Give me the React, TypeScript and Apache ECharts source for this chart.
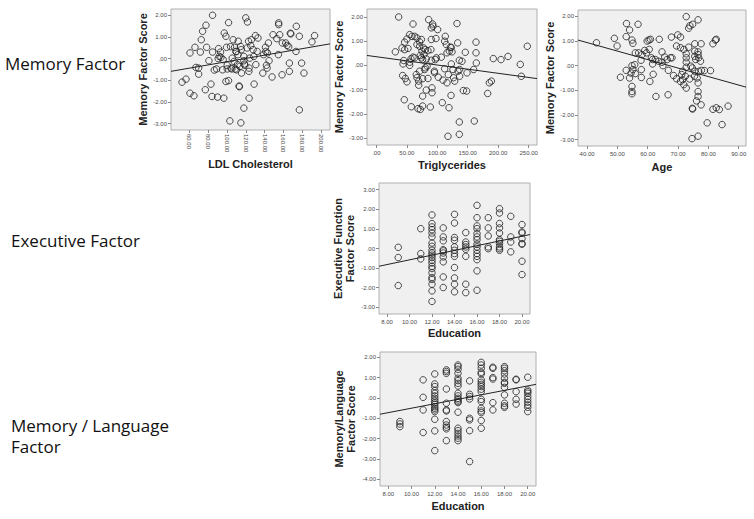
import React, { useEffect, useRef } from "react";
import * as echarts from "echarts";

// ---------- data ----------
const ldlMemory: number[][] = [
  [84.7, 2.0], [77.7, 1.54], [74.1, 1.26], [72.7, 0.87], [66, 0.52], [60.7, 0.26], [71.7, 0.3], [78.4, 0.52],
  [84.7, 0.3], [80.8, -0.1], [67, -0.41], [69.9, -0.44], [69.9, -0.72], [56.5, -0.95], [52.2, -1.09], [60.7, -1.6],
  [64.9, -1.72], [77, -1.44], [83, -1.18], [84.1, -1.75], [90, -1.78], [96.7, -1.83], [86.5, -0.53], [89, -0.48],
  [91.8, 0.1], [97.1, 1.18], [101.7, 1.66], [98.9, 1.03], [99.6, 0.52], [93.6, 0.06], [96, -0.05], [100.3, -0.48],
  [104.2, -0.44], [98.9, -1.06], [101.7, -1.02], [103.1, -2.88], [114.8, -2.97], [118, -2.29], [123.6, -1.83],
  [113, -1.27], [113.2, -1.3], [128.9, -1.18], [103.8, 0.55], [106.6, 0.87], [108.1, 0.52], [112, 0.8], [109.5, 0.33],
  [105.6, 0.02], [107.7, -0.13], [111.2, -0.28], [105.2, -0.48], [108.8, -0.48], [115.5, -0.67], [113.7, -0.36],
  [118, 0.1], [118, -0.1], [118.7, -0.25], [119, -0.31], [123.6, -0.44], [123.3, -0.59], [123, 0.8], [126, 0.87],
  [125.3, 0.6], [127.8, 0.41], [121.5, 0.49], [120, 1.88], [121.8, 1.69], [130.3, 1.06], [133, 0.95], [132.1, 0.33],
  [128.6, 0.1], [124.3, 0.02], [130.7, -0.28], [138.1, -0.67], [142, -0.31], [142.7, -0.44], [144.8, -0.1],
  [138.9, 0.18], [141.3, 0.33], [143, 0.26], [144.1, 0.72], [141, 0.52], [149, 1.1], [153, 0.92], [155, 1.65],
  [155, 1.57], [156.1, 1.1], [158.9, 0.72], [162.5, 0.72], [163.9, 0.61], [165.7, 0.55], [167.4, 1.17], [168, 1.14],
  [154.7, 0.18], [158.6, -0.75], [148, -0.85], [166.4, -0.59], [166.4, -0.21], [173.8, 1.49], [177, 1.03],
  [173.4, 0.33], [179.4, -0.21], [181.9, -0.67], [177, -2.37], [193.2, 1.06], [190.4, 0.77], [91.1, 0.46],
  [93.2, 0.3], [90.7, 0.0], [95.3, -0.52], [100.3, -0.31], [110, -0.52], [110, 0.32], [111.7, 0.18], [115.2, 0.41],
  [114.5, 0.56],
];
const ldlFit: number[][] = [[40.5, -0.59], [209.6, 0.68]];

const trigMemory: number[][] = [
  [36.7, 2.0], [60.2, 1.71], [85.9, 1.89], [92.5, 1.71], [93, 1.62], [90.3, 1.55], [100.6, 1.48], [132.4, 1.73],
  [54.7, 1.27], [58.5, 1.2], [62.9, 1.2], [50.3, 1.09], [66.7, 1.13], [74, 1.07], [71.1, 0.97], [90.3, 1.07],
  [97.9, 1.11], [113.2, 1.2], [112.1, 1.0], [114.9, 0.86], [121.4, 0.75], [123, 0.74], [133.5, 0.93], [163.6, 0.96],
  [46.5, 0.96], [42.1, 0.72], [46.5, 0.65], [52, 0.7], [31.2, 0.56], [66.7, 0.86], [71.1, 0.79], [77.6, 0.72],
  [80.4, 0.65], [84.7, 0.61], [89.6, 0.65], [74.9, 0.59], [78.2, 0.45], [72.2, 0.41], [60.2, 0.34], [62.9, 0.31],
  [56.9, 0.27], [44.9, 0.2], [43.8, 0.06], [54.7, 0.13], [54.7, 0.0], [76, 0.24], [82, 0.27], [90.3, 0.21],
  [96.8, 0.24], [106.7, 0.34], [116, 0.52], [119.8, 0.59], [124.2, 0.56], [146, 0.54], [163.6, 0.52], [136.2, 0.21],
  [140.6, 0.17], [123.1, 0.06], [164.1, 0.1], [192, 0.28], [204.6, 0.24], [216.1, 0.37], [247.8, 0.79], [236.3, 0.04],
  [238, -0.45], [159.7, -0.17], [148.8, -0.31], [136.7, -0.17], [134, -0.24], [136.7, -0.45], [125.8, -0.17],
  [112.1, -0.14], [118.1, -0.38], [126.8, -0.51], [128.6, -0.65], [116, -0.72], [109.4, -0.61], [101.7, -0.49],
  [95.2, -0.24], [95.5, -0.3], [79.3, -0.17], [80.4, -0.1], [71.1, -0.24], [65.6, -0.38], [66.7, -0.51],
  [69.5, -0.65], [69.5, -0.82], [76, -0.55], [84.7, -0.54], [91.4, -0.93], [91.4, -1.13], [82, -1.02], [76, -1.27],
  [43.2, -0.42], [47.6, -0.54], [50.3, -0.68], [45.9, -1.42], [57.4, -1.71], [68.4, -1.79], [72.2, -1.82],
  [76, -1.68], [88.6, -1.72], [108.3, -1.54], [119.3, -1.75], [122.6, -1.24], [142.8, -1.04], [148.2, -1.06],
  [182.7, -1.16], [185.5, -0.72], [188.8, -0.65], [136.2, -2.34], [160.8, -2.3], [117.6, -2.93], [136.2, -2.85],
  [98.5, 0.31], [74, 0.31], [83.3, -0.03],
];
const trigFit: number[][] = [[-15.3, 0.41], [263.7, -0.546]];

const ageMemory: number[][] = [
  [43.1, 0.93], [49, 1.11], [49.9, 0.8], [53, 1.71], [54, 1.45], [56.8, 1.68], [52.9, 1.18], [54.8, 1.04],
  [55.1, 0.91], [59.8, 1.0], [60.4, 1.04], [60.9, 1.07], [63.8, 1.07], [67.8, 1.16], [69.9, 1.25], [70.8, 1.16],
  [72.7, 1.99], [73.5, 1.52], [73.9, 1.62], [74.8, 1.68], [76.6, 1.86], [69.5, 0.8], [70.8, 0.73], [71.9, 0.66],
  [72.7, 0.48], [72.7, 0.32], [72.7, 0.14], [72.7, -0.06], [73.5, 0.75], [75.5, 0.89], [76.6, 0.56], [76.6, 0.45],
  [76.8, 0.32], [77.4, 0.18], [77.6, 0.89], [81.5, 0.89], [82.3, 1.04], [82.6, 1.07], [75.5, 0.59], [75.5, 0.38],
  [75.8, 0.25], [74.7, -0.09], [74.2, -0.02], [75.5, -0.23], [76.8, -0.23], [77.7, -0.19], [78.7, -0.2],
  [80.7, -0.2], [75.4, -0.43], [76.3, -0.5], [76.6, -0.7], [72.4, -0.43], [71.5, -0.57], [70.8, -0.64],
  [71.9, -0.77], [72.7, -0.91], [73.8, -0.54], [71.2, -0.36], [69.5, -0.53], [68.5, -0.4], [66.8, -0.19],
  [71.5, -0.23], [67.5, 0.32], [68, 0.32], [66.4, 0.25], [65.6, 0.35], [64.7, 0.56], [64.7, 0.14], [65, 0.0],
  [63.6, 0.18], [62.5, 0.25], [61.6, 0.25], [61.2, 0.32], [61.6, 0.07], [61.8, -0.35], [60.7, -0.64], [57.8, 0.22],
  [58.1, 0.45], [57, 0.52], [59, 0.62], [59.6, 0.52], [60.5, 0.66], [55.9, 0.52], [55.1, -0.16], [54.5, -0.3],
  [55.9, -0.32], [55.7, 0.04], [54.8, 0.0], [52.9, -0.19], [54, -0.5], [51, -0.47], [57.9, -0.16], [57.9, -0.48],
  [54.8, -0.84], [54.8, -1.05], [54.8, -1.14], [62.7, -1.25], [66.7, -1.18], [76.6, -1.05], [76.6, -1.25],
  [76.1, -1.43], [77.6, -1.59], [74.7, -1.73], [74.8, -1.76], [81.5, -1.77], [82.6, -1.71], [83.6, -1.78],
  [86.5, -1.64], [79.6, -2.32], [84.5, -2.39], [74.6, -2.96], [76.6, -2.86],
];
const ageFit: number[][] = [[37, 1.04], [92.4, -0.87]];

const eduExecutive: number[][] = [
  [9, 0.06], [9, -0.46], [9, -1.89],
  [11, 1.01], [11, -0.26], [11, -0.53],
  [12, 1.71], [12, 1.27], [12, 1.1], [12, 0.96], [12, 0.79], [12, 0.59], [12, 0.28], [12, 0.11], [12, -0.09],
  [12, -0.23], [12, -0.34], [12, -0.46], [12, -0.6], [12, -0.74], [12, -0.91], [12, -1.02], [12, -1.24],
  [12, -1.48], [12, -1.58], [12, -1.82], [12, -2.16], [12, -2.7],
  [13, 1.05], [13, 0.59], [13, 0.39], [13, -0.06], [13, -0.12], [13, -0.23], [13, -0.43], [13, -0.68],
  [13, -1.45], [13, -1.99],
  [14, 1.74], [14, 1.3], [14, 0.56], [14, 0.42], [14, 0.08], [14, -0.09], [14, -0.26], [14, -0.4], [14, -0.97],
  [14, -1.5], [14, -1.82], [14, -2.21],
  [15, 0.81], [15, 0.33], [15, 0.2], [15, 0.08], [15, -0.04], [15, -0.4], [15, -1.82], [15, -2.25],
  [16, 2.2], [16, 1.57], [16, 1.15], [16, 1.01], [16, 0.76], [16, 0.59], [16, 0.45], [16, 0.22], [16, 0.08],
  [16, -0.09], [16, -0.26], [16, -0.4], [16, -0.57], [16, -1.14], [16, -2.13],
  [17, 1.57], [17, 1.05], [17, 0.64], [17, 0.08], [17, -0.01],
  [18, 2.03], [18, 1.81], [18, 1.27], [18, 1.05], [18, 0.79], [18, 0.45], [18, 0.37], [18, 0.25], [18, 0.08],
  [18, -0.01], [18, -0.09],
  [19, 1.64], [19, 0.59], [19, 0.33], [19, -0.17],
  [20, 1.22], [20, 0.84], [20, 0.79], [20, 0.5], [20, 0.25], [20, 0.22], [20, -0.65], [20, -1.33],
];
const eduExecutiveFit: number[][] = [[7.29, -0.905], [20.71, 0.71]];

const eduMemLang: number[][] = [
  [9, -1.16], [9, -1.28], [9, -1.41],
  [11, 0.89], [11, 0.03], [11, -0.59], [11, -1.7],
  [12, 1.18], [12, 0.69], [12, 0.56], [12, 0.36], [12, 0.23], [12, 0.1], [12, -0.02], [12, -0.13], [12, -0.23],
  [12, -0.31], [12, -0.43], [12, -0.51], [12, -0.59], [12, -0.67], [12, -1.05], [12, -1.62], [12, -2.59],
  [13, 1.38], [13, 1.3], [13, 1.21], [13, 0.44], [13, -0.26], [13, -0.59], [13, -0.64], [13, -1.16], [13, -1.33],
  [13, -1.44], [13, -1.52], [13, -2.1],
  [14, 1.62], [14, 1.54], [14, 1.41], [14, 1.21], [14, 0.97], [14, 0.85], [14, 0.72], [14, 0.59], [14, 0.23],
  [14, 0.1], [14, -0.02], [14, -0.1], [14, -0.18], [14, -0.23], [14, -0.7], [14, -1.49], [14, -1.61], [14, -1.74],
  [14, -1.87], [14, -1.98], [14, -2.1],
  [15, 0.84], [15, 0.18], [15, 0.07], [15, -0.05], [15, -1.0], [15, -1.08], [15, -1.61], [15, -3.13],
  [16, 1.75], [16, 1.62], [16, 1.46], [16, 1.26], [16, 1.18], [16, 0.89], [16, 0.77], [16, 0.67], [16, 0.56],
  [16, 0.43], [16, 0.31], [16, -0.07], [16, -0.18], [16, -0.51], [16, -0.64], [16, -0.72], [16, -1.11], [16, -1.49],
  [17, 1.51], [17, 1.46], [17, 1.0], [17, 0.93], [17, -0.23], [17, -0.59],
  [18, 1.54], [18, 1.46], [18, 1.34], [18, 1.18], [18, 0.97], [18, 0.77], [18, 0.72], [18, 0.52], [18, 0.15],
  [18, -0.26], [18, -0.39], [18, -0.46],
  [19, 0.92], [19, 0.89], [19, 0.31], [19, -0.07], [19, -0.3],
  [20, 1.02], [20, 0.39], [20, 0.31], [20, 0.23], [20, 0.07], [20, -0.07], [20, -0.21], [20, -0.34], [20, -0.46],
  [20, -0.67],
];
const eduMemLangFit: number[][] = [[7.29, -0.8], [20.71, 0.67]];

const ldlTicks = [60, 80, 100, 120, 140, 160, 180, 200];
const trigTicks = [0, 50, 100, 150, 200, 250];
const ageTicks = [40, 50, 60, 70, 80, 90];
const eduTicks = [8, 10, 12, 14, 16, 18, 20];
const scoreTicksA = [-3, -2, -1, 0, 1, 2];
const scoreTicksB = [-3, -2, -1, 0, 1, 2, 3];
const scoreTicksC = [-4, -3, -2, -1, 0, 1, 2];

const rowLabels = ["Memory Factor", "Executive Factor", "Memory / Language\nFactor"];

// ---------- helpers ----------
const fmt = (v: number) => {
  const s = Math.abs(v).toFixed(2);
  const t = s.startsWith("0") ? s.slice(1) : s;
  return v < -1e-9 ? "-" + t : t;
};

const SANS = "'Liberation Sans', Arial, sans-serif";

type Panel = {
  grid: { left: number; top: number; width: number; height: number };
  xRange: [number, number];
  yRange: [number, number];
  xTicks: number[];
  yTicks: number[];
  xName: string;
  yName: string;
  xNameGap: number;
  yNameGap: number;
  rotate: number;
  points: number[][];
  fit: number[][];
};

const panels: Panel[] = [
  {
    grid: { left: 171, top: 9, width: 159, height: 121 },
    xRange: [40.5, 209.6], yRange: [-3.3, 2.29], xTicks: ldlTicks, yTicks: scoreTicksA,
    xName: "LDL Cholesterol", yName: "Memory Factor Score", xNameGap: 28, yNameGap: 21, rotate: -90,
    points: ldlMemory, fit: ldlFit,
  },
  {
    grid: { left: 367, top: 9, width: 170, height: 136 },
    xRange: [-15.3, 263.7], yRange: [-3.29, 2.33], xTicks: trigTicks, yTicks: scoreTicksA,
    xName: "Triglycerides", yName: "Memory Factor Score", xNameGap: 14, yNameGap: 22, rotate: 0,
    points: trigMemory, fit: trigFit,
  },
  {
    grid: { left: 578, top: 10, width: 168, height: 136 },
    xRange: [37, 92.4], yRange: [-3.26, 2.26], xTicks: ageTicks, yTicks: scoreTicksA,
    xName: "Age", yName: "Memory Factor Score", xNameGap: 15, yNameGap: 22, rotate: 0,
    points: ageMemory, fit: ageFit,
  },
  {
    grid: { left: 379, top: 183, width: 151, height: 131 },
    xRange: [7.29, 20.71], yRange: [-3.34, 3.34], xTicks: eduTicks, yTicks: scoreTicksB,
    xName: "Education", yName: "Executive Function\nFactor Score", xNameGap: 13, yNameGap: 23, rotate: 0,
    points: eduExecutive, fit: eduExecutiveFit,
  },
  {
    grid: { left: 380, top: 352, width: 156, height: 134 },
    xRange: [7.29, 20.71], yRange: [-4.33, 2.26], xTicks: eduTicks, yTicks: scoreTicksC,
    xName: "Education", yName: "Memory/Language\nFactor Score", xNameGap: 14, yNameGap: 23, rotate: 0,
    points: eduMemLang, fit: eduMemLangFit,
  },
];

export default function App() {
  const ref = useRef<HTMLDivElement>(null);

  useEffect(() => {
    if (!ref.current) return;
    const chart = echarts.init(ref.current, null, { renderer: "svg" });

    const nameStyle = { fontFamily: SANS, fontWeight: "bold" as const, fontSize: 11, color: "#222", lineHeight: 12 };
    const labelStyle = { fontFamily: SANS, fontSize: 6, color: "#4a4a4a" };

    const option: any = {
      animation: false,
      backgroundColor: "#ffffff",
      grid: panels.map((p) => ({
        ...p.grid,
        show: true,
        backgroundColor: "#f0f0f0",
        borderColor: "#b0b0b0",
        borderWidth: 1,
        containLabel: false,
      })),
      xAxis: panels.map((p, i) => ({
        gridIndex: i,
        type: "value",
        position: "bottom",
        min: p.xRange[0],
        max: p.xRange[1],
        name: p.xName,
        nameLocation: "middle",
        nameGap: p.xNameGap,
        nameTextStyle: nameStyle,
        axisLine: { show: false, onZero: false },
        axisTick: { show: true, length: 3, lineStyle: { color: "#888" }, customValues: p.xTicks },
        axisLabel: { ...labelStyle, customValues: p.xTicks, formatter: fmt, margin: p.rotate ? 4 : 5, rotate: p.rotate },
        splitLine: { show: false },
      })),
      yAxis: panels.map((p, i) => ({
        gridIndex: i,
        type: "value",
        position: "left",
        min: p.yRange[0],
        max: p.yRange[1],
        name: p.yName,
        nameLocation: "middle",
        nameGap: p.yNameGap,
        nameTextStyle: nameStyle,
        axisLine: { show: false, onZero: false },
        axisTick: { show: true, length: 3, lineStyle: { color: "#888" }, customValues: p.yTicks },
        axisLabel: { ...labelStyle, customValues: p.yTicks, formatter: fmt, margin: 4 },
        splitLine: { show: false },
      })),
      series: panels.flatMap((p, i) => [
        {
          type: "scatter",
          xAxisIndex: i,
          yAxisIndex: i,
          data: p.points,
          symbol: "circle",
          symbolSize: 6.5,
          itemStyle: { color: "rgba(0,0,0,0)", borderColor: "#222", borderWidth: 1 },
          silent: true,
        },
        {
          type: "line",
          xAxisIndex: i,
          yAxisIndex: i,
          data: p.fit,
          symbol: "none",
          lineStyle: { color: "#222", width: 1 },
          silent: true,
        },
      ]),
      graphic: [
        { type: "text", left: 5, top: 55, style: { text: rowLabels[0], font: "17px 'Open Sans', sans-serif", fill: "#111" } },
        { type: "text", left: 11, top: 232, style: { text: rowLabels[1], font: "17px 'Open Sans', sans-serif", fill: "#111" } },
        {
          type: "text", left: 11, top: 415,
          style: { text: rowLabels[2], font: "17px 'Open Sans', sans-serif", fill: "#111", lineHeight: 21 },
        },
      ],
    };

    chart.setOption(option);
    return () => chart.dispose();
  }, []);

  return (
    <div
      ref={ref}
      style={{ position: "absolute", left: 0, top: 0, width: 754, height: 519, background: "#fff" }}
    />
  );
}
